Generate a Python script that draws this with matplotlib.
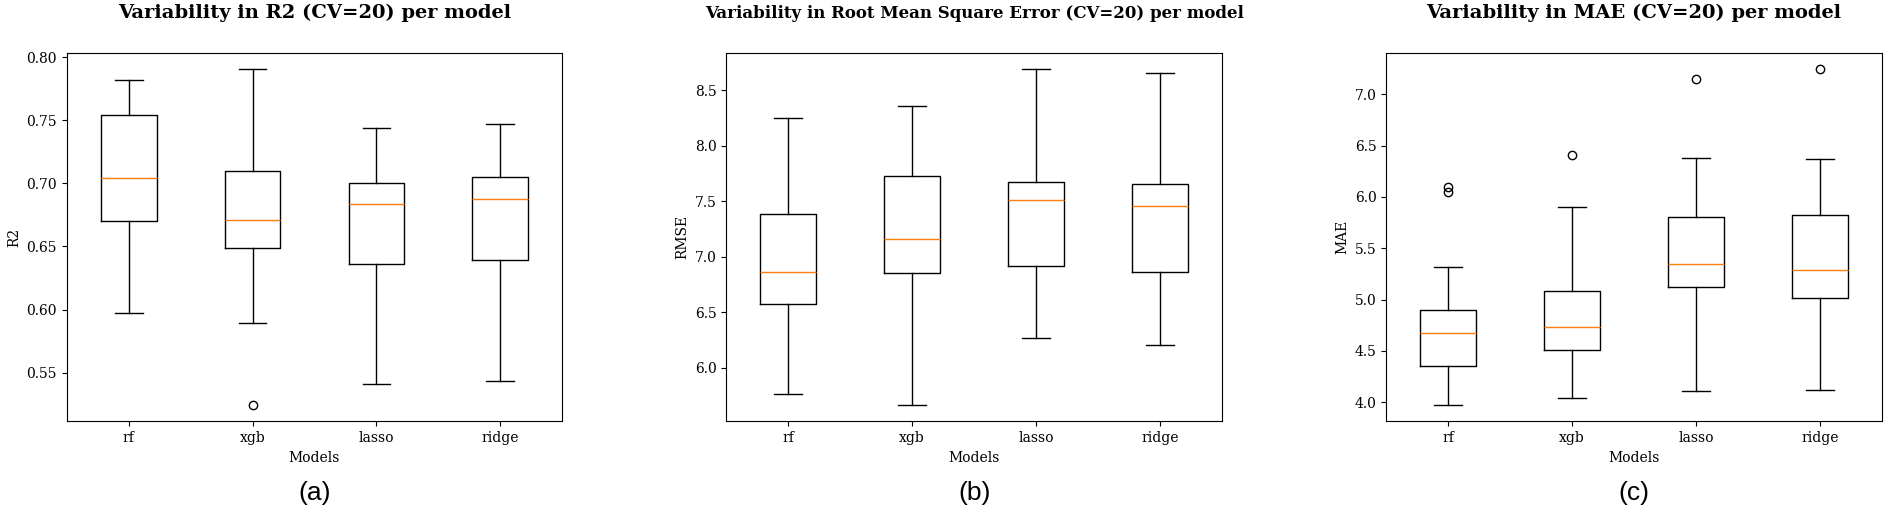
import matplotlib
matplotlib.use("Agg")
import matplotlib.pyplot as plt

plt.rcParams['font.family'] = ['DejaVu Serif']

models = ["rf", "xgb", "lasso", "ridge"]

# R2 box statistics
r2_whislo = [0.5974, 0.5895, 0.5413, 0.5432]
r2_q1 = [0.6700, 0.6487, 0.6360, 0.6395]
r2_med = [0.7042, 0.6711, 0.6839, 0.6874]
r2_q3 = [0.7545, 0.7100, 0.7000, 0.7047]
r2_whishi = [0.7820, 0.7903, 0.7442, 0.7474]
r2_fliers = [[], [0.5247], [], []]

# RMSE box statistics
rmse_whislo = [5.766, 5.668, 6.270, 6.207]
rmse_q1 = [6.575, 6.853, 6.916, 6.865]
rmse_med = [6.865, 7.159, 7.512, 7.458]
rmse_q3 = [7.383, 7.725, 7.671, 7.653]
rmse_whishi = [8.254, 8.362, 8.689, 8.659]
rmse_fliers = [[], [], [], []]

# MAE box statistics
mae_whislo = [3.977, 4.039, 4.107, 4.117]
mae_q1 = [4.356, 4.506, 5.118, 5.011]
mae_med = [4.676, 4.730, 5.351, 5.293]
mae_q3 = [4.901, 5.086, 5.805, 5.824]
mae_whishi = [5.322, 5.902, 6.381, 6.368]
mae_fliers = [[6.099, 6.047], [6.407], [7.146], [7.243]]

titles = ["Variability in R2 (CV=20) per model",
          "Variability in Root Mean Square Error (CV=20) per model",
          "Variability in MAE (CV=20) per model"]
ylabels = ["R2", "RMSE", "MAE"]
panel_tags = ["(a)", "(b)", "(c)"]
title_sizes = [14, 12, 14]

datasets = [
    (r2_whislo, r2_q1, r2_med, r2_q3, r2_whishi, r2_fliers),
    (rmse_whislo, rmse_q1, rmse_med, rmse_q3, rmse_whishi, rmse_fliers),
    (mae_whislo, mae_q1, mae_med, mae_q3, mae_whishi, mae_fliers),
]

W, H = 1888, 512
fig = plt.figure(figsize=(W / 100, H / 100), dpi=100)
lefts = [66.7, 726.3, 1386.3]
aw = 495.6
top_px, bot_px = 52.7, 421.3

for i, (lo, q1, med, q3, hi, fl) in enumerate(datasets):
    ax = fig.add_axes([lefts[i] / W, (H - bot_px) / H, aw / W, (bot_px - top_px) / H])
    stats = []
    for j, m in enumerate(models):
        stats.append(dict(label=m, whislo=lo[j], q1=q1[j], med=med[j], q3=q3[j],
                          whishi=hi[j], fliers=fl[j]))
    ax.bxp(stats, widths=0.45, showfliers=True,
           flierprops=dict(marker='o', markerfacecolor='none', markeredgecolor='black', markersize=6),
           medianprops=dict(color='C1'))
    ax.set_xlim(0.5, 4.5)
    ax.set_xlabel("Models", fontsize=10)
    ax.set_ylabel(ylabels[i], fontsize=10)
    ax.set_title(titles[i], fontsize=title_sizes[i], fontweight='bold', pad=25)
    ax.tick_params(labelsize=10)
    cx = (lefts[i] + aw / 2) / W
    fig.text(cx, 1 - 493 / H, panel_tags[i], ha='center', va='center', fontsize=19,
             family=['Liberation Sans', 'DejaVu Sans'])

fig.savefig("out.png", dpi=100)
